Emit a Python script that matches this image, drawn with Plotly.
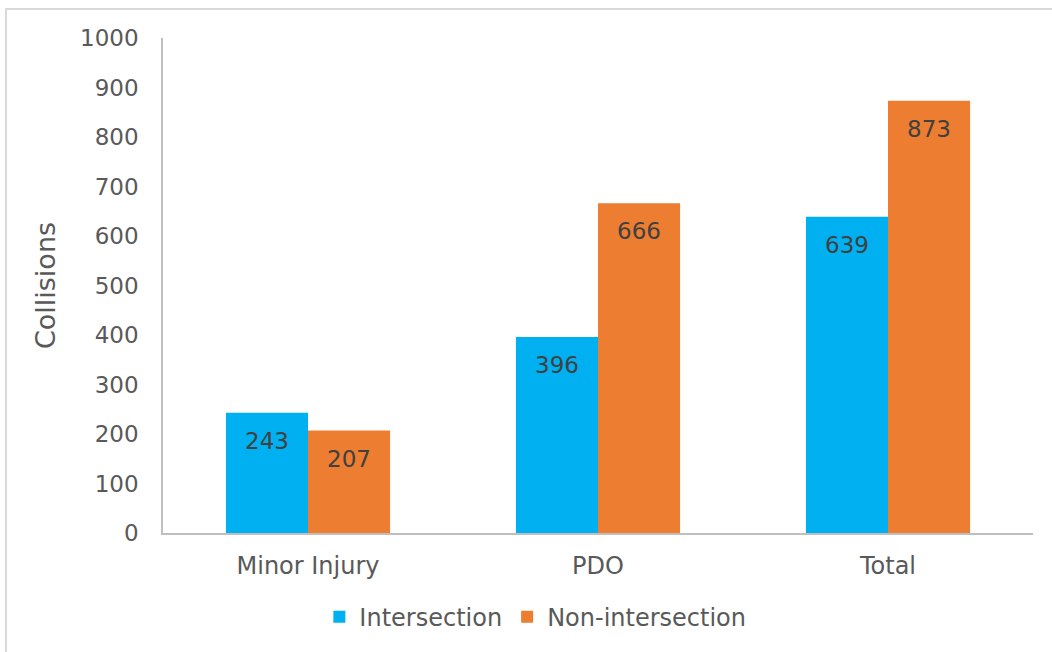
import plotly.graph_objects as go

categories = ["Minor Injury", "PDO", "Total"]
intersection = [243, 396, 639]
non_intersection = [207, 666, 873]
y_ticks = [0, 100, 200, 300, 400, 500, 600, 700, 800, 900, 1000]

BLUE = "#00B0F0"
ORANGE = "#ED7D31"
FONT = "DejaVu Sans"
TXT = 23

fig = go.Figure()
fig.add_trace(go.Bar(name="Intersection", x=categories, y=intersection,
                     marker=dict(color=BLUE, line=dict(width=0))))
fig.add_trace(go.Bar(name="Non-intersection", x=categories, y=non_intersection,
                     marker=dict(color=ORANGE, line=dict(width=0))))

# value labels placed just inside the top of each bar
for off, vals in ((-0.5, intersection), (0.5, non_intersection)):
    for i, v in enumerate(vals):
        fig.add_annotation(x=i + off * 0.283, y=v, text=str(v), showarrow=False,
                           yshift=-28, xref="x", yref="y",
                           font=dict(family=FONT, size=TXT, color="#404040"))

# outer chart border
fig.add_shape(type="rect", xref="paper", yref="paper",
              x0=-0.1805, x1=1.05, y0=-0.26, y1=1.0586,
              line=dict(color="#D9D9D9", width=2), fillcolor="rgba(0,0,0,0)", layer="below")

fig.update_layout(
    width=1052, height=652,
    margin=dict(l=163, r=19, t=38, b=119),
    paper_bgcolor="white", plot_bgcolor="white",
    barmode="group", bargap=0.434, bargroupgap=0,
    font=dict(family=FONT, color="#595959", size=TXT),
    showlegend=True,
    legend=dict(orientation="h", x=0.428, xanchor="center", y=-0.17, yanchor="middle",
                font=dict(family=FONT, size=24, color="#595959"),
                itemsizing="constant", traceorder="normal"),
    xaxis=dict(showline=True, linecolor="#BFBFBF", linewidth=1.5, ticks="",
               tickfont=dict(size=24, color="#595959"), showgrid=False,
               ticklabelstandoff=10),
    yaxis=dict(range=[0, 1000], tickvals=y_ticks, showline=True, linecolor="#BFBFBF",
               linewidth=1.5, showgrid=False, zeroline=False, ticks="", ticklen=0,
               tickfont=dict(size=TXT, color="#595959"), ticklabelstandoff=18,
               title=dict(text="Collisions", font=dict(size=27, color="#595959"), standoff=17)),
)

fig.write_html("out.html")
